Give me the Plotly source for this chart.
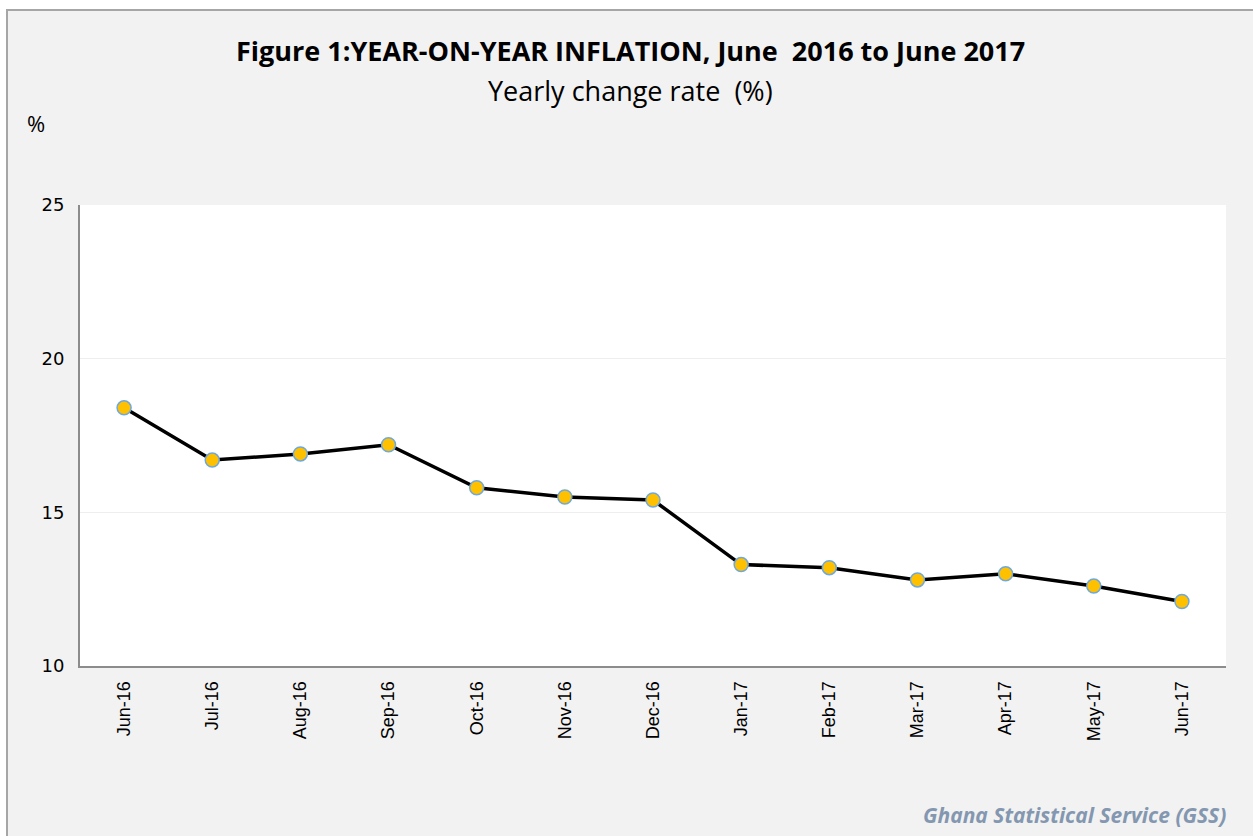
import plotly.graph_objects as go

months = ["Jun-16", "Jul-16", "Aug-16", "Sep-16", "Oct-16", "Nov-16", "Dec-16",
          "Jan-17", "Feb-17", "Mar-17", "Apr-17", "May-17", "Jun-17"]
inflation = [18.4, 16.7, 16.9, 17.2, 15.8, 15.5, 15.4, 13.3, 13.2, 12.8, 13.0, 12.6, 12.1]
y_ticks = [10, 15, 20, 25]

PW, PH = 1146, 461  # plot area size in px

fig = go.Figure()
fig.add_trace(go.Scatter(
    x=months, y=inflation, mode="lines+markers",
    line=dict(color="black", width=3.5),
    marker=dict(size=14, color="#ffc000", line=dict(color="#6fa8dc", width=1.5)),
    showlegend=False,
))

fig.update_layout(
    width=1253, height=836,
    paper_bgcolor="white", plot_bgcolor="white",
    margin=dict(l=80, r=27, t=205, b=170),
    font=dict(family="Liberation Sans, Arial, sans-serif", color="black"),
)
fig.update_xaxes(
    type="category", range=[-0.5, 12.5], tickangle=-90,
    tickfont=dict(size=18), showgrid=False,
    showline=True, linecolor="#8c8c8c", linewidth=2, ticks="", ticklabelstandoff=6,
)
fig.update_yaxes(
    range=[10, 25], tickvals=y_ticks, ticktext=[str(v) for v in y_ticks],
    tickfont=dict(size=18, family="DejaVu Sans, sans-serif"),
    showgrid=True, gridcolor="#eeeeee", gridwidth=1, zeroline=False,
    showline=True, linecolor="#8c8c8c", linewidth=2, ticks="", ticklabelstandoff=10,
)

# outer chart area background and border
fig.add_shape(type="rect", xref="paper", yref="paper",
              x0=-73 / PW, x1=1.1, y0=-0.5, y1=1 + 195 / PH,
              fillcolor="#f2f2f2", line=dict(color="#a6a6a6", width=2), layer="below")
# white plot area over the grey chart background
fig.add_shape(type="rect", xref="paper", yref="paper", x0=0, x1=1, y0=0, y1=1,
              fillcolor="white", line=dict(width=0), layer="below")

tx = (630 - 80) / PW
fig.add_annotation(text="<b>Figure 1:YEAR-ON-YEAR INFLATION, June  2016 to June 2017</b>",
                   xref="paper", yref="paper", x=tx, y=1 + 155 / PH,
                   xanchor="center", yanchor="middle", showarrow=False,
                   font=dict(size=27, family="Open Sans, sans-serif", color="black"))
fig.add_annotation(text="Yearly change rate  (%)",
                   xref="paper", yref="paper", x=tx, y=1 + 115 / PH,
                   xanchor="center", yanchor="middle", showarrow=False,
                   font=dict(size=27, family="Open Sans, sans-serif", color="black"))
fig.add_annotation(text="%", xref="paper", yref="paper", x=-44 / PW, y=1 + 82 / PH,
                   xanchor="center", yanchor="middle", showarrow=False,
                   font=dict(size=22, family="Open Sans, sans-serif", color="black"))
fig.add_annotation(text="<b><i>Ghana Statistical Service (GSS)</i></b>",
                   xref="paper", yref="paper", x=1 + 2 / PW, y=-149 / PH,
                   xanchor="right", yanchor="middle", showarrow=False,
                   font=dict(size=21, family="Open Sans, sans-serif", color="#8497b0"))

fig.write_html("out.html", config={"displayModeBar": False},
               post_script="document.body.style.margin='0';document.body.style.overflow='hidden';")
